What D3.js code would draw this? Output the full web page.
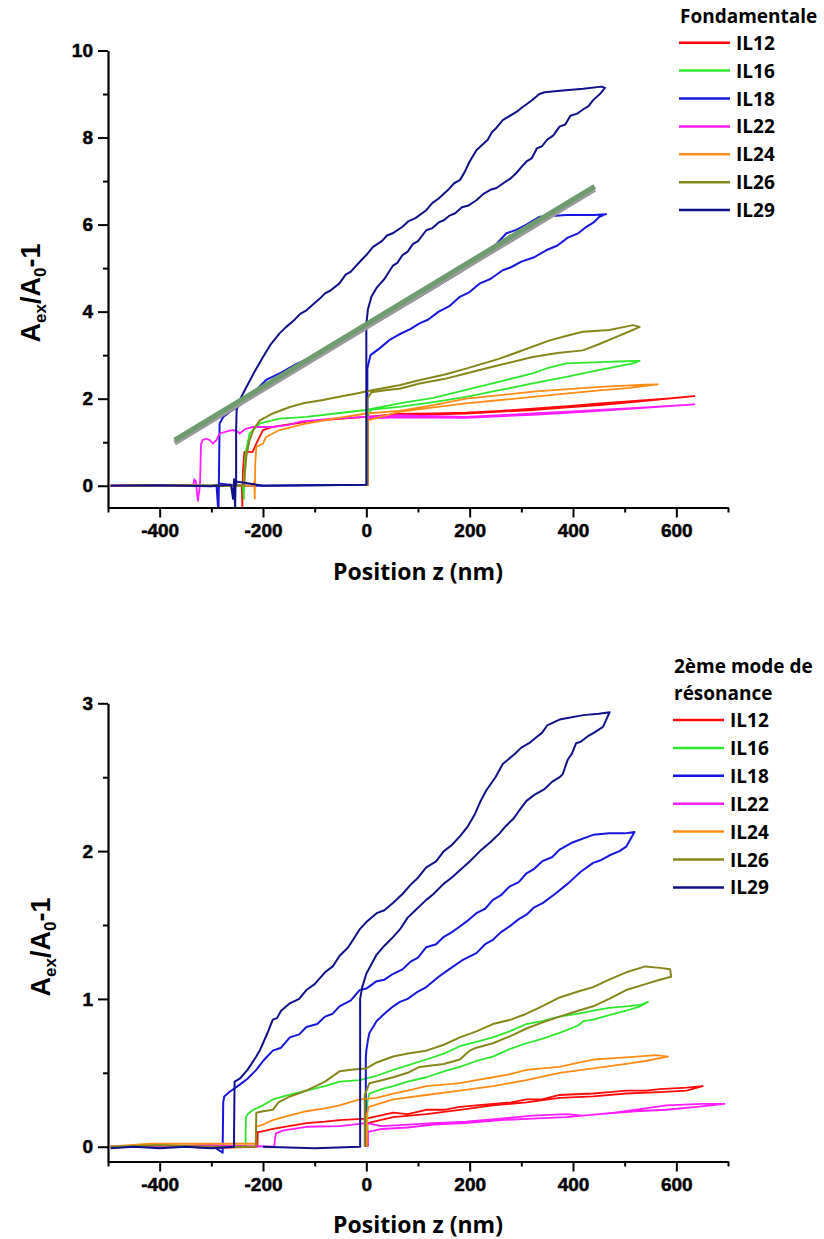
<!DOCTYPE html>
<html><head><meta charset="utf-8">
<script src="https://cdn.jsdelivr.net/npm/d3@7"></script>
<style>body{margin:0;background:#fff} svg{display:block}</style>
</head><body><svg id="c" width="824" height="1239"></svg>
<script>
// ---------- DATA ----------
const seriesNames  = ["IL12","IL16","IL18","IL22","IL24","IL26","IL29"];
const seriesColors = ["#ff0a0a","#2de82d","#1616dc","#ff1cff","#ff8c16","#86861a","#10108a"];
const xMajorTicks = [-400,-200,0,200,400,600];
const xMinorTicks = [-500,-300,-100,100,300,500,700];
const topYMajor = [0,2,4,6,8,10];
const topYMinor = [1,3,5,7,9];
const botYMajor = [0,1,2,3];
const botYMinor = [0.5,1.5,2.5];
const topTitle = "Fondamentale";
const botTitle = ["2ème mode de","résonance"];
const xLabel = "Position z (nm)";

// Fondamentale
const top_IL12 = [[-495,0],[-400,0.01],[-300,-0.01],[-250,0.01],[-241,0],[-240,-0.5],[-239,0.3],[-236,0.78],[-220,0.78],[-213,0.97],[-200,1.28],[-181,1.35],[-116,1.47],[-60,1.53],[0,1.58],[64,1.65],[130,1.66],[193,1.68],[260,1.72],[322,1.77],[390,1.83],[452,1.89],[520,1.95],[580,2.0],[635,2.06],[600,2.02],[520,1.93],[452,1.85],[390,1.8],[322,1.74],[193,1.66],[64,1.62],[2,1.55],[2,0]];
const top_IL16 = [[-495,0],[-400,0],[-300,0.01],[-239,0],[-237,-0.3],[-236,0.3],[-233,0.8],[-226,1.2],[-206,1.43],[-168,1.54],[-116,1.58],[-60,1.66],[0,1.74],[64,1.89],[130,2.02],[193,2.2],[260,2.4],[322,2.58],[350,2.7],[387,2.81],[452,2.84],[500,2.86],[529,2.87],[516,2.81],[452,2.66],[387,2.5],[322,2.35],[260,2.2],[193,2.04],[130,1.92],[64,1.81],[10,1.75],[2,1.6],[2,0]];
const top_IL18 = [[-495,0],[-400,0.01],[-300,0],[-290,0.02],[-287,-0.5],[-285,0.05],[-250,0],[-100,0.01],[2,0.02],[2,2.7],[8,3.0],[25,3.15],[45,3.35],[64,3.48],[85,3.6],[103,3.73],[120,3.82],[140,4.0],[160,4.12],[181,4.34],[200,4.45],[220,4.65],[240,4.75],[264,4.95],[280,5.02],[300,5.15],[325,5.25],[348,5.41],[370,5.52],[390,5.7],[410,5.8],[426,5.95],[440,6.05],[451,6.18],[464,6.24],[440,6.22],[387,6.22],[360,6.2],[335,6.18],[310,6.0],[290,5.88],[271,5.8],[240,5.4],[181,4.9],[100,4.32],[0,3.62],[-100,2.98],[-135,2.8],[-165,2.6],[-194,2.43],[-230,2.0],[-250,1.8],[-264,1.7],[-277,1.58],[-284,1.43],[-285,0.5],[-286,-0.5]];
const top_IL22 = [[-495,0],[-400,0.01],[-335,0],[-333,0.15],[-330,0.1],[-326,-0.35],[-322,0],[-320,0.95],[-317,1.05],[-310,1.08],[-303,1.05],[-297,0.97],[-290,1.05],[-284,1.2],[-270,1.25],[-258,1.28],[-250,1.25],[-245,1.2],[-235,1.3],[-219,1.35],[-181,1.35],[-150,1.4],[-129,1.47],[-65,1.54],[0,1.58],[64,1.62],[130,1.6],[193,1.58],[260,1.62],[322,1.66],[390,1.7],[452,1.74],[540,1.8],[635,1.87],[600,1.84],[452,1.72],[322,1.63],[193,1.56],[64,1.57],[3,1.55],[3,0]];
const top_IL24 = [[-495,0],[-400,0.01],[-300,0],[-218,0],[-217,0.1],[-216,-0.3],[-215,0.5],[-213,0.89],[-200,0.97],[-194,1.12],[-168,1.28],[-116,1.43],[-60,1.55],[0,1.66],[64,1.72],[130,1.85],[193,2.0],[260,2.08],[322,2.16],[390,2.22],[452,2.27],[500,2.3],[540,2.32],[564,2.33],[510,2.25],[452,2.19],[390,2.12],[322,2.04],[260,1.97],[193,1.89],[130,1.8],[64,1.7],[3,1.5],[3,0]];
const top_IL26 = [[-468,0],[-400,0.01],[-300,0],[-236,0],[-235,0.3],[-232,0.7],[-226,1.05],[-218,1.3],[-206,1.5],[-181,1.66],[-148,1.81],[-120,1.9],[-84,1.97],[-50,2.05],[-19,2.12],[13,2.2],[64,2.31],[100,2.42],[150,2.55],[193,2.69],[258,2.92],[300,3.1],[355,3.34],[390,3.45],[419,3.54],[470,3.58],[500,3.65],[516,3.69],[529,3.65],[510,3.55],[484,3.42],[450,3.25],[419,3.11],[370,3.05],[322,2.96],[250,2.75],[193,2.58],[150,2.45],[103,2.35],[64,2.23],[40,2.2],[10,2.15],[2,2.0],[2,0]];
const top_IL29 = [[-495,0],[-400,0.01],[-300,-0.01],[-262,0.02],[-258,-0.3],[-256,0.15],[-254,-0.5],[-253,0.1],[-200,0],[-100,0.01],[0,0.02],[0,3.7],[3,4.05],[10,4.35],[20,4.55],[35,4.75],[51,5.05],[60,5.12],[70,5.3],[80,5.38],[90,5.55],[100,5.62],[116,5.87],[128,5.92],[140,6.05],[150,6.1],[160,6.2],[172,6.26],[185,6.4],[198,6.44],[213,6.56],[226,6.7],[240,6.8],[252,6.84],[265,6.95],[278,7.05],[290,7.18],[300,7.32],[310,7.45],[320,7.52],[330,7.75],[340,7.8],[350,7.95],[362,8.05],[374,8.25],[385,8.3],[395,8.5],[408,8.55],[420,8.65],[430,8.72],[439,8.86],[452,9.0],[462,9.14],[455,9.17],[420,9.12],[380,9.08],[345,9.04],[335,9.0],[320,8.85],[300,8.68],[292,8.6],[285,8.55],[264,8.4],[250,8.2],[243,8.12],[235,7.95],[213,7.71],[200,7.45],[190,7.2],[181,7.02],[170,6.95],[160,6.82],[140,6.6],[128,6.5],[116,6.33],[95,6.15],[82,6.08],[70,5.95],[51,5.8],[40,5.75],[30,5.62],[13,5.49],[0,5.3],[-13,5.14],[-30,4.92],[-40,4.85],[-52,4.65],[-70,4.48],[-80,4.42],[-90,4.3],[-116,4.03],[-128,3.95],[-140,3.8],[-155,3.65],[-168,3.5],[-185,3.25],[-200,2.96],[-215,2.65],[-232,2.27],[-245,1.97],[-251,1.74],[-252,1.3],[-252,0]];
const fitGray  = [[-371,0.98],[442,6.81]];
const fitGreen = [[-371,1.05],[442,6.88]];

// 2eme mode de resonance
const bot_IL12 = [[-495,0],[-400,0.01],[-300,-0.01],[-211,0],[-210,0.1],[-205,0.1],[-181,0.12],[-150,0.14],[-116,0.16],[-80,0.17],[-52,0.18],[0,0.19],[52,0.23],[80,0.22],[116,0.25],[150,0.25],[181,0.27],[245,0.29],[280,0.3],[310,0.32],[340,0.32],[374,0.35],[439,0.36],[470,0.37],[503,0.38],[540,0.38],[568,0.39],[620,0.4],[651,0.41],[620,0.38],[568,0.37],[503,0.36],[439,0.34],[374,0.33],[310,0.3],[245,0.28],[181,0.25],[116,0.22],[52,0.2],[2,0.16],[2,0]];
const bot_IL16 = [[-495,0],[-400,0.01],[-300,0],[-234,0],[-233,0.2],[-230,0.22],[-219,0.25],[-200,0.28],[-181,0.32],[-150,0.35],[-116,0.38],[-80,0.41],[-52,0.44],[-13,0.45],[20,0.48],[52,0.52],[80,0.55],[116,0.59],[150,0.63],[181,0.68],[213,0.71],[245,0.74],[277,0.78],[310,0.83],[340,0.85],[374,0.88],[410,0.9],[439,0.92],[470,0.94],[503,0.95],[530,0.96],[545,0.98],[530,0.95],[503,0.92],[470,0.89],[439,0.86],[420,0.85],[410,0.82],[374,0.77],[340,0.73],[310,0.7],[277,0.66],[245,0.61],[213,0.58],[181,0.54],[150,0.51],[116,0.47],[80,0.44],[52,0.41],[30,0.39],[6,0.36],[2,0.3],[2,0]];
const bot_IL18 = [[-495,0],[-400,0],[-300,0.01],[-278,-0.04],[-278,0],[-277,0.3],[-275,0.34],[-265,0.37],[-245,0.42],[-230,0.46],[-213,0.52],[-200,0.58],[-181,0.65],[-165,0.67],[-148,0.74],[-130,0.76],[-116,0.81],[-95,0.83],[-80,0.88],[-65,0.9],[-52,0.95],[-30,0.99],[-13,1.06],[0,1.07],[20,1.12],[35,1.13],[52,1.17],[70,1.2],[85,1.25],[100,1.28],[116,1.35],[135,1.37],[150,1.42],[165,1.45],[181,1.49],[200,1.54],[213,1.58],[230,1.61],[245,1.67],[260,1.7],[277,1.76],[295,1.79],[310,1.85],[325,1.88],[340,1.93],[360,1.96],[374,2.01],[400,2.06],[439,2.11],[470,2.12],[500,2.12],[519,2.13],[503,2.03],[490,2.0],[470,1.97],[455,1.94],[439,1.92],[415,1.86],[390,1.78],[365,1.71],[342,1.65],[325,1.62],[310,1.57],[295,1.54],[277,1.49],[260,1.45],[245,1.4],[230,1.37],[213,1.31],[185,1.26],[160,1.2],[140,1.15],[116,1.08],[100,1.05],[80,1.0],[65,0.98],[52,0.95],[35,0.9],[20,0.85],[6,0.77],[3,0.72],[0,0.65],[-1,0.6],[-1,0]];
const bot_IL22 = [[-495,0],[-400,0],[-300,0.01],[-178,0],[-177,0.05],[-175,0.09],[-160,0.11],[-116,0.135],[-52,0.14],[0,0.16],[30,0.14],[80,0.15],[130,0.16],[193,0.17],[260,0.19],[322,0.21],[387,0.22],[420,0.21],[480,0.23],[540,0.26],[580,0.28],[650,0.29],[693,0.29],[640,0.27],[580,0.25],[520,0.24],[452,0.22],[387,0.2],[322,0.19],[260,0.18],[193,0.16],[130,0.15],[80,0.13],[30,0.12],[3,0.1],[3,0]];
const bot_IL24 = [[-495,0],[-420,0.02],[-300,0.02],[-214,0.02],[-213,0.135],[-200,0.15],[-181,0.18],[-150,0.21],[-116,0.24],[-80,0.26],[-52,0.28],[-13,0.32],[20,0.33],[52,0.36],[80,0.38],[116,0.41],[150,0.42],[181,0.43],[213,0.45],[245,0.47],[277,0.49],[310,0.52],[340,0.53],[374,0.54],[400,0.56],[439,0.59],[480,0.6],[523,0.61],[560,0.62],[584,0.61],[540,0.58],[503,0.56],[439,0.53],[374,0.5],[310,0.45],[245,0.41],[181,0.38],[116,0.35],[52,0.32],[5,0.27],[1,0.22],[1,0]];
const bot_IL26 = [[-495,0],[-400,0.01],[-300,0],[-214,0],[-213,0.23],[-200,0.24],[-181,0.25],[-170,0.3],[-148,0.34],[-116,0.38],[-80,0.44],[-52,0.51],[-30,0.52],[0,0.53],[20,0.57],[52,0.61],[80,0.63],[116,0.65],[150,0.69],[181,0.74],[213,0.78],[245,0.83],[280,0.86],[310,0.9],[340,0.95],[374,1.01],[410,1.05],[439,1.08],[470,1.13],[503,1.18],[540,1.22],[568,1.21],[588,1.2],[590,1.15],[568,1.13],[540,1.1],[503,1.06],[470,1.0],[439,0.95],[410,0.92],[374,0.88],[340,0.84],[310,0.8],[280,0.75],[245,0.7],[213,0.67],[200,0.65],[181,0.59],[150,0.56],[103,0.54],[80,0.5],[52,0.47],[30,0.45],[6,0.43],[-3,0.35],[-3,0]];
const bot_IL29 = [[-495,-0.01],[-450,0.0],[-400,-0.01],[-350,0.0],[-300,-0.01],[-256,0],[-256,0.1],[-255,0.44],[-245,0.46],[-230,0.52],[-213,0.61],[-205,0.66],[-200,0.7],[-190,0.78],[-181,0.86],[-173,0.87],[-165,0.92],[-148,0.97],[-130,1.0],[-116,1.06],[-100,1.1],[-80,1.18],[-65,1.22],[-52,1.29],[-35,1.35],[-13,1.47],[0,1.52],[20,1.58],[35,1.6],[52,1.65],[70,1.71],[85,1.77],[100,1.82],[116,1.89],[135,1.93],[150,2.0],[165,2.04],[181,2.1],[195,2.16],[210,2.25],[220,2.33],[232,2.41],[250,2.5],[264,2.59],[285,2.65],[300,2.7],[315,2.73],[329,2.77],[340,2.8],[350,2.85],[374,2.89],[420,2.92],[450,2.93],[471,2.94],[458,2.84],[440,2.8],[430,2.78],[415,2.74],[406,2.73],[398,2.66],[390,2.62],[380,2.52],[374,2.5],[360,2.47],[345,2.42],[325,2.38],[310,2.34],[295,2.27],[285,2.22],[270,2.17],[258,2.12],[240,2.06],[220,2.0],[200,1.93],[181,1.87],[165,1.82],[150,1.78],[130,1.71],[116,1.67],[95,1.6],[80,1.55],[65,1.47],[52,1.42],[35,1.36],[20,1.3],[0,1.17],[-8,1.08],[-12,1.0],[-12,0],[-100,-0.01],[-200,0]];

const topData = [top_IL12, top_IL16, top_IL18, top_IL22, top_IL24, top_IL26, top_IL29];
const botData = [bot_IL12, bot_IL16, bot_IL18, bot_IL22, bot_IL24, bot_IL26, bot_IL29];

// ---------- DRAW ----------
const svg = d3.select("#c");
const tickFont = "'Liberation Sans', Arial, sans-serif";
const labelFont = "'Open Sans', 'Noto Sans', sans-serif";

function panel(cfg) {
  const x = d3.scaleLinear().domain([-500,700]).range([108,728]);
  const y = d3.scaleLinear().domain(cfg.yDomain).range(cfg.yRange);
  const g = svg.append("g");
  const clipId = "clip" + cfg.id;
  svg.append("clipPath").attr("id", clipId).append("rect")
    .attr("x", x(-500)).attr("y", y(cfg.yDomain[1]) - 5)
    .attr("width", x(700) - x(-500)).attr("height", y(cfg.yDomain[0]) - y(cfg.yDomain[1]) + 5);

  const line = d3.line().x(d => x(d[0])).y(d => y(d[1]));
  const plot = g.append("g").attr("clip-path", `url(#${clipId})`);
  cfg.data.forEach((s, i) => {
    plot.append("path").datum(s).attr("d", line)
      .attr("fill", "none").attr("stroke", seriesColors[i])
      .attr("stroke-width", i >= 5 || i === 2 ? 2 : 1.8).attr("stroke-linejoin", "round");
  });
  if (cfg.fit) {
    plot.append("path").datum(fitGray).attr("d", line).attr("stroke", "#9a9a9a").attr("stroke-width", 5).attr("fill", "none");
    plot.append("path").datum(fitGreen).attr("d", line).attr("stroke", "#6f9c6f").attr("stroke-width", 5).attr("fill", "none");
  }

  // axes
  g.append("g").attr("transform", `translate(${x(-500)},0)`)
    .call(d3.axisLeft(y).tickValues(cfg.yMajor).tickSize(10).tickSizeOuter(0).tickPadding(5).tickFormat(d => String(d)));
  g.append("g").attr("transform", `translate(${x(-500)},0)`)
    .call(d3.axisLeft(y).tickValues(cfg.yMinor).tickSize(5).tickFormat(""))
    .call(a => a.select(".domain").remove());
  g.append("g").attr("transform", `translate(0,${y(cfg.yDomain[0])})`)
    .call(d3.axisBottom(x).tickValues(xMajorTicks).tickSize(10).tickSizeOuter(0).tickPadding(6).tickFormat(d => String(d)));
  g.append("g").attr("transform", `translate(0,${y(cfg.yDomain[0])})`)
    .call(d3.axisBottom(x).tickValues(xMinorTicks).tickSize(5).tickFormat(""))
    .call(a => a.select(".domain").remove());
  g.selectAll(".domain").attr("stroke", "#000").attr("stroke-width", 2.2);
  g.selectAll(".tick line").attr("stroke", "#000").attr("stroke-width", 2);
  g.selectAll(".tick text").style("font-family", tickFont).style("font-weight", "700")
    .style("font-size", "19px").attr("fill", "#000").attr("stroke", "#000").attr("stroke-width", 0.5);

  // x label
  g.append("text").attr("x", 418).attr("y", cfg.xLabelY).attr("text-anchor", "middle")
    .attr("font-family", labelFont).attr("font-weight", "bold").attr("font-size", 23).text(xLabel);

  // y label
  const yl = g.append("text").attr("transform", `translate(${cfg.yLabelX},${cfg.yLabelY}) rotate(-90)`)
    .attr("text-anchor", "middle").attr("font-family", tickFont).attr("font-weight", "bold").attr("font-size", 27);
  yl.append("tspan").text("A");
  yl.append("tspan").attr("font-size", 17).attr("dy", 6).text("ex");
  yl.append("tspan").attr("dy", -6).text("/A");
  yl.append("tspan").attr("font-size", 17).attr("dy", 6).text("0");
  yl.append("tspan").attr("dy", -6).text("-1");

  // legend
  const lg = g.append("g");
  cfg.title.forEach((t, k) => {
    lg.append("text").attr("x", cfg.legX).attr("y", cfg.titleY + k * 27)
      .attr("font-family", labelFont).attr("font-weight", "bold").attr("font-size", 19).text(t);
  });
  seriesNames.forEach((n, i) => {
    const yy = cfg.rowY + i * 27.9;
    lg.append("line").attr("x1", cfg.legX - 1).attr("x2", cfg.legX + 50).attr("y1", yy).attr("y2", yy)
      .attr("stroke", seriesColors[i]).attr("stroke-width", 2.5);
    lg.append("text").attr("x", cfg.legX + 56).attr("y", yy + 7)
      .attr("font-family", labelFont).attr("font-weight", "bold").attr("font-size", 19).text(n);
  });
}

panel({id: 1, data: topData, yDomain: [-0.5, 10], yRange: [507.5, 50.5], yMajor: topYMajor, yMinor: topYMinor,
  fit: true, xLabelY: 580, yLabelX: 40, yLabelY: 293, title: [topTitle], titleY: 23, legX: 680, rowY: 42.7});
panel({id: 2, data: botData, yDomain: [-0.1, 3], yRange: [1161.5, 703.3], yMajor: botYMajor, yMinor: botYMinor,
  fit: false, xLabelY: 1233, yLabelX: 50, yLabelY: 947, title: botTitle, titleY: 673, legX: 674, rowY: 720});
</script></body></html>
